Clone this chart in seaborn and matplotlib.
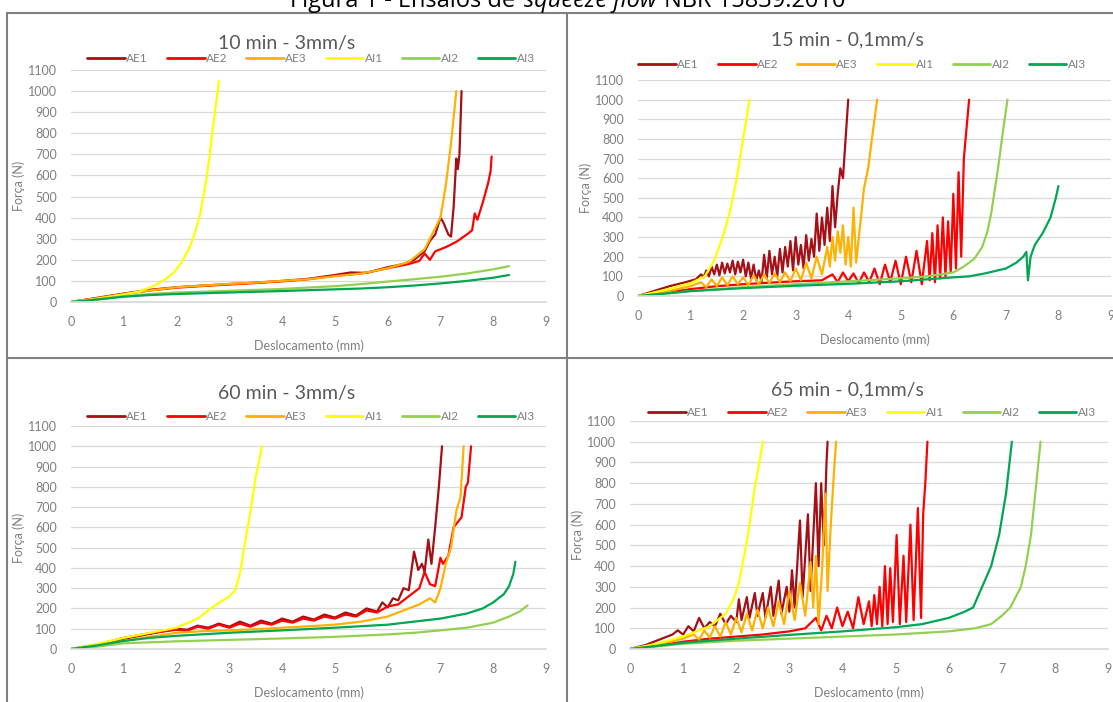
import numpy as np
import pandas as pd
import matplotlib
matplotlib.use("Agg")
import matplotlib.pyplot as plt
from matplotlib.lines import Line2D
import seaborn as sns

# series names and colours (same in every panel)
series = ["AE1", "AE2", "AE3", "AI1", "AI2", "AI3"]
colors = ["#A50F15", "#FF0000", "#FFB000", "#FFFF00", "#92D050", "#00A651"]

titles = ["10 min - 3mm/s", "15 min - 0,1mm/s", "60 min - 3mm/s", "65 min - 0,1mm/s"]
y_ticks = [0, 100, 200, 300, 400, 500, 600, 700, 800, 900, 1000, 1100]
x_ticks = [0, 1, 2, 3, 4, 5, 6, 7, 8, 9]

# ---- panel 1: 10 min - 3mm/s  (deslocamento mm, força N)
p1_ae1 = [(0, 0), (0.5, 20), (1, 40), (1.5, 58), (2, 70), (2.5, 78), (3, 85), (3.5, 92), (4, 100),
          (4.5, 110), (5, 128), (5.3, 140), (5.6, 138), (6, 165), (6.3, 180), (6.5, 200), (6.7, 240),
          (6.8, 290), (6.9, 320), (7.0, 400), (7.05, 380), (7.15, 320), (7.2, 310), (7.25, 450),
          (7.3, 680), (7.33, 630), (7.36, 700), (7.4, 1000)]
p1_ae2 = [(0, 0), (0.5, 18), (1, 38), (1.5, 55), (2, 68), (2.5, 76), (3, 83), (3.5, 90), (4, 98),
          (4.5, 108), (5, 125), (5.5, 135), (6, 160), (6.4, 180), (6.6, 195), (6.7, 230), (6.8, 200),
          (6.9, 240), (7.1, 260), (7.3, 285), (7.5, 320), (7.6, 340), (7.65, 420), (7.7, 390),
          (7.8, 470), (7.9, 560), (7.95, 620), (7.97, 690)]
p1_ae3 = [(0, 0), (0.5, 18), (1, 38), (1.5, 55), (2, 70), (2.5, 78), (3, 86), (3.5, 92), (4, 100),
          (4.5, 108), (5, 122), (5.5, 135), (6, 160), (6.4, 190), (6.7, 250), (6.9, 350), (7.0, 400),
          (7.1, 550), (7.2, 750), (7.3, 1000)]
p1_ai1 = [(0, 0), (0.5, 15), (1, 35), (1.3, 50), (1.6, 80), (1.8, 110), (1.95, 140), (2.1, 190),
          (2.25, 260), (2.35, 330), (2.45, 420), (2.55, 560), (2.62, 680), (2.7, 850), (2.78, 1000),
          (2.8, 1050)]
p1_ai2 = [(0, 0), (0.5, 12), (1, 28), (1.5, 38), (2, 45), (3, 53), (4, 62), (5, 75), (5.5, 85),
          (6, 97), (6.5, 108), (7, 120), (7.5, 135), (8, 155), (8.3, 170)]
p1_ai3 = [(0, 0), (0.5, 12), (1, 25), (1.5, 33), (2, 38), (3, 45), (4, 52), (5, 60), (5.5, 64),
          (6, 70), (6.5, 78), (7, 88), (7.5, 100), (8, 115), (8.3, 128)]

# ---- panel 2: 15 min - 0,1mm/s
p2_ae1 = [(0, 0), (0.3, 25), (0.6, 50), (0.9, 70), (1.1, 85), (1.2, 110), (1.25, 95), (1.3, 130),
          (1.35, 100), (1.4, 150), (1.45, 110), (1.5, 160), (1.55, 105), (1.6, 170), (1.65, 115),
          (1.7, 165), (1.75, 120), (1.8, 180), (1.85, 110), (1.9, 175), (1.95, 120), (2.0, 185),
          (2.05, 100), (2.1, 170), (2.15, 90), (2.2, 160), (2.25, 80), (2.3, 130), (2.35, 70),
          (2.4, 210), (2.45, 90), (2.5, 230), (2.55, 110), (2.6, 200), (2.65, 100), (2.7, 240),
          (2.75, 120), (2.8, 250), (2.85, 150), (2.9, 280), (2.95, 130), (3.0, 300), (3.05, 160),
          (3.1, 260), (3.15, 140), (3.2, 310), (3.25, 180), (3.3, 290), (3.35, 200), (3.4, 420),
          (3.45, 230), (3.5, 400), (3.55, 260), (3.6, 450), (3.65, 280), (3.7, 560), (3.75, 350),
          (3.8, 520), (3.85, 650), (3.9, 600), (3.95, 800), (4.0, 1000)]
p2_ae2 = [(0, 0), (0.5, 15), (1, 35), (1.5, 50), (2, 60), (2.5, 68), (3, 75), (3.5, 80), (3.7, 110),
          (3.8, 70), (3.9, 120), (4.0, 75), (4.1, 115), (4.2, 65), (4.3, 120), (4.4, 70), (4.5, 140),
          (4.6, 60), (4.7, 160), (4.8, 70), (4.9, 180), (5.0, 60), (5.1, 200), (5.2, 70), (5.3, 230),
          (5.4, 60), (5.5, 280), (5.55, 80), (5.6, 320), (5.65, 70), (5.7, 360), (5.75, 90),
          (5.8, 400), (5.85, 100), (5.9, 380), (5.95, 120), (6.0, 520), (6.05, 140), (6.1, 630),
          (6.15, 200), (6.2, 700), (6.25, 850), (6.3, 1000)]
p2_ae3 = [(0, 0), (0.5, 20), (1, 50), (1.2, 70), (1.3, 45), (1.4, 85), (1.5, 50), (1.6, 95), (1.7, 55),
          (1.8, 100), (1.9, 60), (2.0, 95), (2.1, 55), (2.2, 105), (2.3, 60), (2.4, 110), (2.5, 65),
          (2.6, 115), (2.7, 70), (2.8, 120), (2.9, 75), (3.0, 140), (3.1, 80), (3.2, 170), (3.3, 90),
          (3.4, 200), (3.5, 110), (3.6, 250), (3.65, 150), (3.7, 300), (3.75, 180), (3.8, 330),
          (3.85, 220), (3.9, 360), (3.95, 160), (4.0, 300), (4.05, 150), (4.1, 450), (4.15, 170),
          (4.25, 420), (4.3, 550), (4.38, 650), (4.45, 800), (4.5, 900), (4.55, 1000)]
p2_ai1 = [(0, 0), (0.5, 30), (1, 65), (1.27, 100), (1.45, 180), (1.61, 300), (1.75, 430), (1.88, 600),
          (1.97, 750), (2.05, 880), (2.12, 1000)]
p2_ai2 = [(0, 0), (0.5, 12), (1, 25), (2, 45), (3, 60), (4, 75), (5, 90), (5.5, 100), (6, 120),
          (6.2, 150), (6.4, 190), (6.55, 250), (6.65, 330), (6.72, 420), (6.85, 650), (6.95, 850),
          (7.03, 1000)]
p2_ai3 = [(0, 0), (0.5, 12), (1, 25), (2, 40), (3, 52), (4, 62), (5, 75), (5.5, 85), (6, 95),
          (6.3, 100), (6.6, 115), (7, 140), (7.2, 170), (7.33, 200), (7.39, 225), (7.42, 80),
          (7.47, 200), (7.55, 260), (7.7, 320), (7.85, 400), (7.95, 500), (8.0, 560)]

# ---- panel 3: 60 min - 3mm/s
p3_ae1 = [(0, 0), (0.5, 20), (1, 50), (1.5, 75), (2, 100), (2.2, 95), (2.4, 115), (2.6, 105),
          (2.8, 125), (3.0, 110), (3.2, 135), (3.4, 115), (3.6, 140), (3.8, 125), (4.0, 150),
          (4.2, 135), (4.4, 160), (4.6, 145), (4.8, 170), (5.0, 155), (5.2, 180), (5.4, 165),
          (5.6, 200), (5.8, 185), (5.9, 230), (6.0, 205), (6.1, 250), (6.2, 240), (6.3, 300),
          (6.4, 290), (6.5, 480), (6.58, 390), (6.65, 420), (6.7, 380), (6.77, 540), (6.83, 420),
          (6.9, 600), (6.97, 800), (7.03, 1000)]
p3_ae2 = [(0, 0), (0.5, 22), (1, 55), (1.5, 78), (2, 95), (2.2, 90), (2.4, 110), (2.6, 100),
          (2.8, 120), (3.0, 105), (3.2, 125), (3.4, 110), (3.6, 130), (3.8, 120), (4.0, 140),
          (4.2, 130), (4.4, 150), (4.6, 140), (4.8, 160), (5.0, 150), (5.2, 170), (5.4, 160),
          (5.6, 190), (5.8, 180), (6.0, 210), (6.2, 220), (6.4, 260), (6.6, 300), (6.7, 380),
          (6.8, 320), (6.9, 310), (7.0, 450), (7.05, 420), (7.15, 460), (7.25, 600), (7.4, 650),
          (7.48, 800), (7.52, 820), (7.58, 1000)]
p3_ae3 = [(0, 0), (0.5, 15), (1, 40), (1.5, 60), (2, 80), (2.5, 88), (3, 92), (3.5, 98), (4, 105),
          (4.5, 112), (5, 120), (5.5, 135), (6, 160), (6.3, 190), (6.6, 220), (6.8, 250), (6.9, 230),
          (7.0, 300), (7.1, 420), (7.2, 500), (7.3, 680), (7.38, 750), (7.44, 1000)]
p3_ai1 = [(0, 0), (0.5, 25), (1, 55), (1.5, 80), (2, 105), (2.4, 150), (2.7, 210), (3.0, 260),
          (3.11, 290), (3.2, 370), (3.28, 500), (3.4, 680), (3.5, 850), (3.62, 1000)]
p3_ai2 = [(0, 0), (0.5, 12), (1, 28), (2, 38), (3, 45), (4, 52), (5, 60), (6, 72), (6.5, 80),
          (7, 92), (7.5, 105), (8, 130), (8.3, 160), (8.5, 185), (8.65, 215)]
p3_ai3 = [(0, 0), (0.5, 18), (1, 40), (1.5, 55), (2, 65), (3, 80), (4, 92), (5, 105), (6, 120),
          (6.5, 135), (7, 150), (7.5, 175), (7.8, 200), (8.0, 230), (8.2, 270), (8.3, 310),
          (8.38, 370), (8.42, 430)]

# ---- panel 4: 65 min - 0,1mm/s
p4_ae1 = [(0, 0), (0.3, 20), (0.6, 50), (0.8, 70), (0.9, 90), (1.0, 70), (1.1, 110), (1.2, 85),
          (1.3, 150), (1.4, 100), (1.5, 130), (1.6, 110), (1.7, 170), (1.8, 120), (1.9, 160),
          (2.0, 130), (2.05, 240), (2.1, 140), (2.2, 250), (2.25, 150), (2.35, 270), (2.4, 160),
          (2.5, 270), (2.55, 150), (2.65, 300), (2.7, 160), (2.8, 330), (2.85, 170), (2.95, 300),
          (3.0, 180), (3.05, 380), (3.1, 200), (3.2, 620), (3.25, 250), (3.35, 650), (3.4, 280),
          (3.5, 800), (3.55, 400), (3.6, 800), (3.65, 500), (3.7, 900), (3.72, 1000)]
p4_ae2 = [(0, 0), (0.5, 15), (1, 35), (1.5, 50), (2, 60), (2.5, 70), (3, 85), (3.3, 100), (3.5, 150),
          (3.6, 90), (3.7, 160), (3.8, 100), (3.9, 200), (4.0, 110), (4.1, 180), (4.2, 100),
          (4.3, 250), (4.4, 120), (4.5, 230), (4.55, 110), (4.6, 260), (4.65, 120), (4.7, 300),
          (4.75, 110), (4.8, 400), (4.85, 120), (4.9, 390), (4.95, 130), (5.02, 550), (5.08, 120),
          (5.15, 450), (5.2, 130), (5.28, 600), (5.34, 140), (5.42, 680), (5.48, 150), (5.52, 650),
          (5.56, 800), (5.6, 1000)]
p4_ae3 = [(0, 0), (0.5, 20), (1, 50), (1.2, 70), (1.3, 45), (1.4, 90), (1.5, 55), (1.6, 110),
          (1.7, 60), (1.8, 130), (1.9, 70), (2.0, 150), (2.1, 80), (2.2, 170), (2.3, 90), (2.4, 190),
          (2.5, 100), (2.6, 200), (2.7, 110), (2.8, 230), (2.9, 120), (3.0, 280), (3.1, 140),
          (3.2, 320), (3.3, 160), (3.4, 420), (3.45, 200), (3.5, 450), (3.55, 120), (3.62, 400),
          (3.68, 750), (3.72, 280), (3.78, 600), (3.84, 850), (3.88, 1000)]
p4_ai1 = [(0, 0), (0.5, 25), (1, 60), (1.5, 110), (1.8, 170), (1.95, 240), (2.05, 320), (2.15, 450),
          (2.25, 600), (2.35, 780), (2.45, 920), (2.5, 1000)]
p4_ai2 = [(0, 0), (0.5, 12), (1, 25), (2, 40), (3, 50), (4, 60), (5, 70), (6, 85), (6.5, 100),
          (6.8, 120), (7.0, 160), (7.16, 200), (7.36, 300), (7.45, 400), (7.55, 550), (7.65, 800),
          (7.73, 1000)]
p4_ai3 = [(0, 0), (0.5, 15), (1, 30), (2, 50), (3, 68), (4, 85), (5, 105), (5.5, 120), (6, 150),
          (6.3, 180), (6.46, 200), (6.63, 300), (6.8, 400), (6.95, 550), (7.08, 750), (7.19, 1000)]

panels = [
    [p1_ae1, p1_ae2, p1_ae3, p1_ai1, p1_ai2, p1_ai3],
    [p2_ae1, p2_ae2, p2_ae3, p2_ai1, p2_ai2, p2_ai3],
    [p3_ae1, p3_ae2, p3_ae3, p3_ai1, p3_ai2, p3_ai3],
    [p4_ae1, p4_ae2, p4_ae3, p4_ai1, p4_ai2, p4_ai3],
]

sns.set_theme(style="white")
plt.rcParams["font.family"] = ["Lato", "DejaVu Sans"]

W, H = 1113, 702
fig = plt.figure(figsize=(W / 100, H / 100), dpi=100)
fig.patch.set_facecolor("white")

def fx(px):
    return px / W

def fy(py):
    return 1 - py / H

# axes boxes in pixels: x0 (x=0), x9 (x=9), y of 0 N, y of 1100 N
boxes = [(71, 546, 302, 70), (638, 1111, 296, 80), (71, 546, 649, 426), (630, 1108, 649, 421)]
title_pos = [(287, 43), (847, 40), (287, 393), (847, 390)]
legend_pos = [(311, 59), (862, 65), (311, 417), (872, 413)]

gray = "#7F7F7F"
for i, (data, box) in enumerate(zip(panels, boxes)):
    x0, x9, yb, yt = box
    ax = fig.add_axes([fx(x0), fy(yb), fx(x9 - x0), (yb - yt) / H])
    frames = []
    for name, pts in zip(series, data):
        d = pd.DataFrame(pts, columns=["Deslocamento", "Forca"])
        d["serie"] = name
        frames.append(d)
    df = pd.concat(frames, ignore_index=True)
    sns.lineplot(data=df, x="Deslocamento", y="Forca", hue="serie", hue_order=series,
                 palette=colors, sort=False, estimator=None, linewidth=1.6, ax=ax, legend=False)
    ax.set_xlim(0, 9)
    ax.set_ylim(0, 1100)
    ax.set_xticks(x_ticks)
    ax.set_yticks(y_ticks)
    ax.set_yticklabels([str(v) for v in y_ticks])
    ax.tick_params(axis="both", length=0, labelsize=9, labelcolor=gray)
    ax.tick_params(axis="x", pad=10)
    ax.tick_params(axis="y", pad=10)
    ax.yaxis.grid(True, color="#D9D9D9", linewidth=0.9)
    ax.set_axisbelow(True)
    for s in ["top", "right", "left"]:
        ax.spines[s].set_visible(False)
    ax.spines["bottom"].set_color("#D9D9D9")
    ax.set_xlabel("Deslocamento (mm)", fontsize=9, color=gray, labelpad=8)
    ax.set_ylabel("Força (N)", fontsize=9, color=gray, labelpad=2)
    ax.set_facecolor("white")

    tx, ty = title_pos[i]
    fig.text(fx(tx), fy(ty), titles[i], ha="center", va="center", fontsize=14, color="#595959")

    handles = [Line2D([0], [0], color=c, lw=2) for c in colors]
    lx, ly = legend_pos[i]
    fig.legend(handles, series, loc="center", bbox_to_anchor=(fx(lx), fy(ly)), ncol=6,
               frameon=False, fontsize=8.5, labelcolor=gray, handlelength=3.2,
               handletextpad=0.1, columnspacing=1.6, borderpad=0)

# table borders of the document
bc = "#808080"
fig.add_artist(Line2D([fx(7), fx(1113)], [fy(13), fy(13)], color=bc, lw=1.5))
fig.add_artist(Line2D([fx(7), fx(7)], [fy(13), fy(702)], color=bc, lw=1.5))
fig.add_artist(Line2D([fx(567), fx(567)], [fy(13), fy(702)], color=bc, lw=1.5))
fig.add_artist(Line2D([fx(7), fx(1113)], [fy(358), fy(358)], color=bc, lw=1.5))

# document caption, partly cut at the top
cap_y = fy(7)
parts = [("Figura 1 - Ensaios de ", "normal"), ("squeeze flow", "italic"), (" NBR 15839:2010", "normal")]
texts = [fig.text(0, cap_y, s, fontsize=17, style=st, color="black", va="baseline",
                  family=["Open Sans", "DejaVu Sans"]) for s, st in parts]
fig.canvas.draw()
r = fig.canvas.get_renderer()
widths = [t.get_window_extent(r).width for t in texts]
x = (566 - sum(widths) / 2)
for t, w in zip(texts, widths):
    t.set_x(x / W)
    x += w + 2

fig.savefig("out.png", dpi=100)
